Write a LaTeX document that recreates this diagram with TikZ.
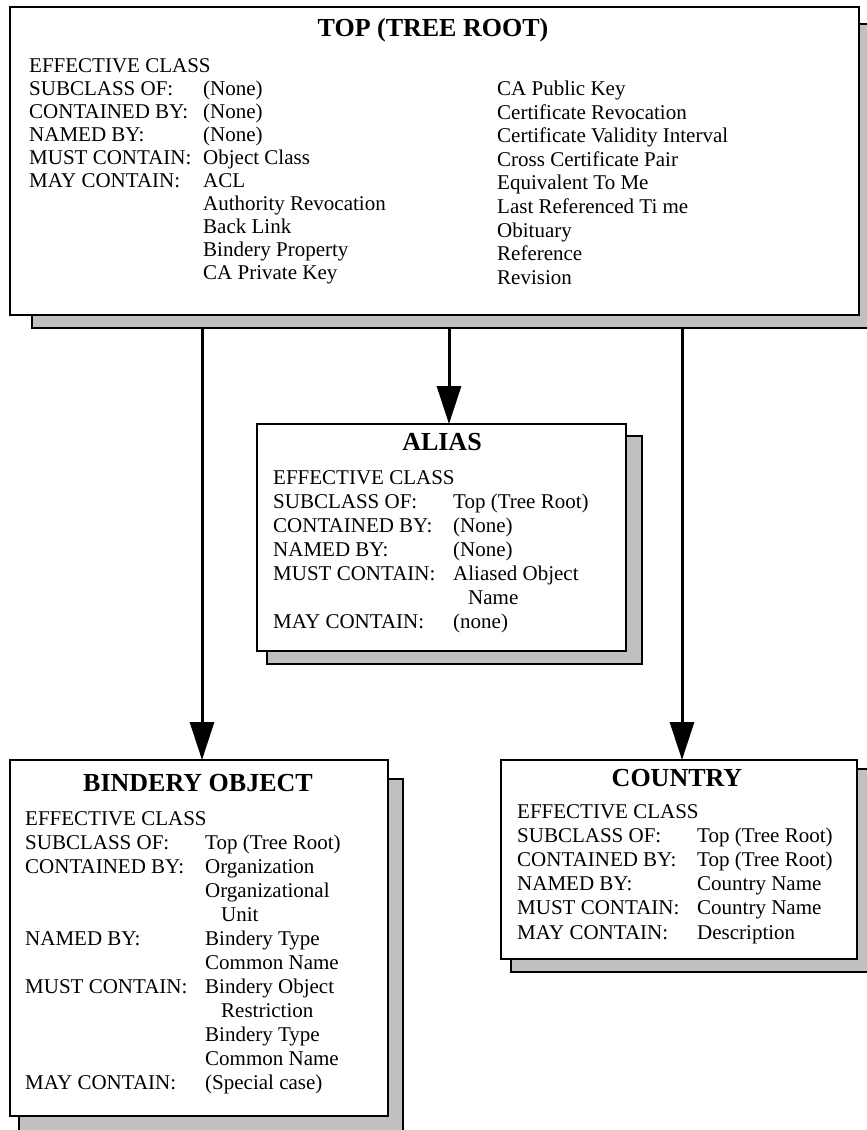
\documentclass[tikz,border=0pt]{standalone}
\usepackage{fontspec}
\setmainfont{Liberation Serif}
\usetikzlibrary{arrows.meta}
\definecolor{shadowgray}{RGB}{192,192,192}
\begin{document}
\begin{tikzpicture}[x=1pt,y=-1pt,
  shadowbox/.style={draw=black,line width=2.2pt,fill=shadowgray,rectangle,inner sep=0pt,outer sep=0pt,anchor=north west},
  mainbox/.style={draw=black,line width=2.2pt,fill=white,rectangle,inner sep=0pt,outer sep=0pt,anchor=north west},
  lbl/.style={anchor=base west,inner sep=0pt,font=\fontsize{21}{24}\selectfont},
  ttl/.style={anchor=base,inner sep=0pt,font=\fontsize{26}{30}\selectfont\bfseries},
  conn/.style={line width=3pt,-{Triangle[length=38pt,width=24pt]}}]
\useasboundingbox (0,0) rectangle (867,1130);
\clip (0,0) rectangle (867,1130);
% shadows
\node[shadowbox,minimum width=849pt,minimum height=304pt] (topsh) at (32,24) {};
\node[shadowbox,minimum width=375pt,minimum height=228pt] (alsh) at (267,436) {};
\node[shadowbox,minimum width=384pt,minimum height=380pt] (bosh) at (19,779) {};
\node[shadowbox,minimum width=380pt,minimum height=203pt] (cosh) at (511,769) {};
% main boxes
\node[mainbox,minimum width=849pt,minimum height=308pt] (top) at (10,7) {};
\node[mainbox,minimum width=369pt,minimum height=227pt] (alias) at (257,424) {};
\node[mainbox,minimum width=378pt,minimum height=356pt] (bind) at (10,760) {};
\node[mainbox,minimum width=356pt,minimum height=199pt] (ctry) at (501,760) {};
% titles
\node[ttl] (toptitle) at (433,36.6) {TOP (TREE ROOT)};
\node[ttl] (altitle) at (442,450.6) {ALIAS};
\node[ttl] (botitle) at (198,791) {BINDERY OBJECT};
\node[ttl] (cotitle) at (677,786) {COUNTRY};
% top box text
\foreach \k/\l/\v in {0/EFFECTIVE CLASS/,1/SUBCLASS OF:/(None),2/CONTAINED BY:/(None),3/NAMED BY:/(None),4/MUST CONTAIN:/Object Class,5/MAY CONTAIN:/ACL,6//Authority Revocation,7//Back Link,8//Bindery Property,9//CA Private Key}{
  \node[lbl] (tl\k) at (29,72+23.1*\k) {\l};
  \node[lbl] (tv\k) at (203,72+23.1*\k) {\v};
}
\foreach \k/\v in {0/CA Public Key,1/Certificate Revocation,2/Certificate Validity Interval,3/Cross Certificate Pair,4/Equivalent To Me,5/Last Referenced Ti me,6/Obituary,7/Reference,8/Revision}{
  \node[lbl] (tr\k) at (497,95.5+23.6*\k) {\v};
}
% alias text
\foreach \k/\l/\v in {0/EFFECTIVE CLASS/,1/SUBCLASS OF:/Top (Tree Root),2/CONTAINED BY:/(None),3/NAMED BY:/(None),4/MUST CONTAIN:/Aliased Object,5//\hspace*{15pt}Name,6/MAY CONTAIN:/(none)}{
  \node[lbl] (al\k) at (273,484+24*\k) {\l};
  \node[lbl] (av\k) at (453,484+24*\k) {\v};
}
% bindery text
\foreach \k/\l/\v in {0/EFFECTIVE CLASS/,1/SUBCLASS OF:/Top (Tree Root),2/CONTAINED BY:/Organization,3//Organizational,4//\hspace*{16pt}Unit,5/NAMED BY:/Bindery Type,6//Common Name,7/MUST CONTAIN:/Bindery Object,8//\hspace*{16pt}Restriction,9//Bindery Type,10//Common Name,11/MAY CONTAIN:/(Special case)}{
  \node[lbl] (bl\k) at (25,825+24*\k) {\l};
  \node[lbl] (bv\k) at (205,825+24*\k) {\v};
}
% country text
\foreach \k/\l/\v in {0/EFFECTIVE CLASS/,1/SUBCLASS OF:/Top (Tree Root),2/CONTAINED BY:/Top (Tree Root),3/NAMED BY:/Country Name,4/MUST CONTAIN:/Country Name,5/MAY CONTAIN:/Description}{
  \node[lbl] (cl\k) at (517,818+24.2*\k) {\l};
  \node[lbl] (cv\k) at (697,818+24.2*\k) {\v};
}
% connectors
\coordinate (s1) at (topsh.south -| 202,0);
\coordinate (s2) at (topsh.south -| 449,0);
\coordinate (s3) at (topsh.south -| 682,0);
\draw[conn] (s1) -- (s1 |- bind.north);
\draw[conn] (s2) -- (s2 |- alias.north);
\draw[conn] (s3) -- (s3 |- ctry.north);
\end{tikzpicture}
\end{document}
